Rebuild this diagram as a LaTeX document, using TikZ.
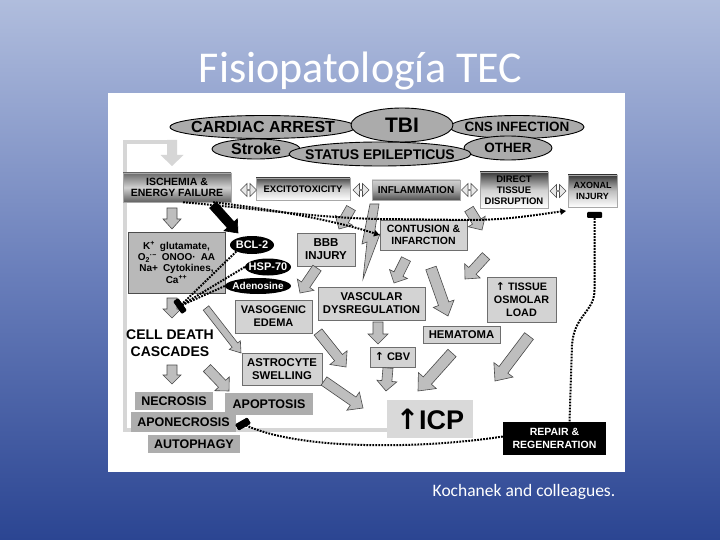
\documentclass[tikz,border=0pt]{standalone}
\usepackage{fontspec}
\setmainfont{Liberation Sans}
\newfontfamily\calib{Carlito}
\newfontfamily\dejavu{DejaVu Sans}
\usetikzlibrary{calc,shapes.geometric,shapes.arrows,arrows.meta}
\pgfdeclarelayer{bgl}
\pgfdeclarelayer{midl}
\pgfsetlayers{bgl,midl,main}
\definecolor{bgtop}{HTML}{B0BDDD}
\definecolor{bgmid}{HTML}{6A7FBB}
\definecolor{bgbot}{HTML}{2B4592}
\definecolor{ellg}{HTML}{ABABAB}
\definecolor{boxl}{HTML}{D3D3D3}
\definecolor{boxb}{HTML}{6E6E6E}
\definecolor{deathg}{HTML}{ADADAD}
\definecolor{kg}{HTML}{B9B9B9}
\definecolor{arrf}{HTML}{BEBEBE}
\definecolor{arrb}{HTML}{4A4A4A}
\definecolor{icpf}{HTML}{D9D9D9}
\definecolor{fbg}{HTML}{D6D6D6}
\newcommand\fsz[1]{\fontsize{#1}{#1}\selectfont}
\newcommand\barrow[6][blockarr]{%
  \path (#2) coordinate (ba-A) (#3) coordinate (ba-B);
  \path ($(ba-B)!#6!(ba-A)$) coordinate (ba-H);
  \filldraw[#1] ($(ba-A)!#4!90:(ba-B)$) -- ($(ba-H)!#4!-90:(ba-A)$) -- ($(ba-H)!#5!-90:(ba-A)$) -- (ba-B) -- ($(ba-H)!#5!90:(ba-A)$) -- ($(ba-H)!#4!90:(ba-A)$) -- ($(ba-A)!#4!-90:(ba-B)$) -- cycle;}
\begin{document}
\begin{tikzpicture}[x=1pt,y=-1pt,
  ell/.style={ellipse, draw=black, line width=0.9pt, fill=ellg, inner sep=0pt},
  lbox/.style={rectangle, draw=boxb, line width=0.9pt, fill=boxl, inner sep=0pt, align=center},
  gbox/.style={rectangle, draw=boxb!60, line width=0.5pt, inner sep=0pt, align=center},
  dbox/.style={rectangle, fill=deathg, inner sep=0pt, font=\bfseries\fsz{12.5}},
  bell/.style={ellipse, fill=black, inner sep=0pt},
  btxt/.style={text=white, inner sep=0pt, font=\bfseries\fsz{11}},
  tbar/.style={rectangle, fill=black, rounded corners=1pt, inner sep=0pt},
  dotline/.style={line width=2pt, dash pattern=on 1.8pt off 1.2pt, black},
  dtip/.style={-{Triangle[length=5.5pt,width=6pt]}},
  blockarr/.style={fill=arrf, draw=arrb, line width=0.6pt, line join=miter},
  blackarr/.style={fill=black, draw=black, line width=0.6pt},
  fbarr/.style={fill=fbg, draw=none},
  darr/.style={double arrow, double arrow head extend=3pt, fill=gray!18, draw=gray!60!black, line width=0.6pt, inner sep=0pt, minimum width=13pt, minimum height=16pt},
]
\begin{pgfonlayer}{bgl}
\shade[top color=bgtop, bottom color=bgbot, middle color=bgmid] (0,0) rectangle (720,540);
\node[fill=white, minimum width=517pt, minimum height=379pt, inner sep=0pt] (panel) at (366.5,282.5) {};
\end{pgfonlayer}
\useasboundingbox (0,0) rectangle (720,540);

\node[font=\calib\fontsize{44}{44}\selectfont, text=white, anchor=base, inner sep=0pt] (title) at (360.5,83) {Fisiopatología TEC};
\node[font=\calib\fontsize{17.5}{18}\selectfont, text=white, anchor=base, inner sep=0pt] (credit) at (524,496) {Kochanek and colleagues.};

% top ellipses
\node[ell, minimum width=186pt, minimum height=23pt] (ca) at (263,127) {};
\node[ell, minimum width=134pt, minimum height=23pt] (cns) at (517,127) {};
\node[ell, minimum width=102pt, minimum height=34pt] (tbi) at (402,125) {};
\node[ell, minimum width=88pt, minimum height=20pt] (stroke) at (256,149) {};
\node[ell, minimum width=88pt, minimum height=24pt] (other) at (508,148) {};
\node[ell, minimum width=182pt, minimum height=24pt] (status) at (380,154) {};
\node[font=\bfseries\fsz{16}, inner sep=0pt] (ca-t) at (ca) {CARDIAC ARREST};
\node[font=\bfseries\fsz{13.5}, inner sep=0pt] (cns-t) at (cns) {CNS INFECTION};
\node[font=\bfseries\fsz{21}, inner sep=0pt] (tbi-t) at (tbi) {TBI};
\node[font=\bfseries\fsz{16}, inner sep=0pt] (stroke-t) at (stroke) {Stroke};
\node[font=\bfseries\fsz{13.5}, inner sep=0pt] (other-t) at (other) {OTHER};
\node[font=\bfseries\fsz{14}, inner sep=0pt] (status-t) at ([yshift=-1pt]status) {STATUS EPILEPTICUS};

% gradient boxes
\node[gbox, minimum width=108pt, minimum height=29pt, top color=black!58, bottom color=black!62, middle color=black!18, font=\bfseries\fontsize{10.5}{11}\selectfont] (isch) at (177,187.5) {ISCHEMIA \&\\ENERGY FAILURE};
\node[gbox, minimum width=94pt, minimum height=22pt, top color=black!72, bottom color=white, middle color=black!20, font=\bfseries\fsz{9.5}] (excito) at (303,189) {EXCITOTOXICITY};
\node[gbox, minimum width=88pt, minimum height=20pt, top color=black!18, bottom color=black!68, middle color=black!35, font=\bfseries\fsz{10}] (inflam) at (416,190) {INFLAMMATION};
\node[gbox, minimum width=68pt, minimum height=36pt, top color=black!78, bottom color=white, middle color=black!18, font=\bfseries\fontsize{9.5}{11}\selectfont] (direct) at (514,190) {DIRECT\\TISSUE\\DISRUPTION};
\node[gbox, minimum width=49pt, minimum height=32pt, top color=black!78, bottom color=white, middle color=black!25, font=\bfseries\fontsize{9}{11}\selectfont] (axonal) at (592.5,191) {AXONAL\\INJURY};

\node[darr] (dd1) at (248.5,190) {};
\node[darr] (dd2) at (361,190) {};
\node[darr] (dd3) at (469.5,190) {};
\node[darr] (dd4) at (558,191) {};

% middle boxes
\node[rectangle, draw=black!70, line width=0.9pt, fill=kg, minimum width=97pt, minimum height=61pt, inner sep=0pt, align=center, font=\bfseries\fontsize{10}{11.2}\selectfont] (kbox) at (176.5,262.5) {K\textsuperscript{+}\enspace glutamate,\\O\textsubscript{2}\textsuperscript{·−}\enspace ONOO·\enspace AA\\Na+\enspace Cytokines,\\Ca\textsuperscript{++}};
\node[lbox, minimum width=58pt, minimum height=33pt, font=\bfseries\fontsize{11.5}{13}\selectfont] (bbb) at (326,249.5) {BBB\\INJURY};
\node[lbox, minimum width=87pt, minimum height=30pt, font=\bfseries\fontsize{10.5}{12.5}\selectfont] (contusion) at (423.5,235) {CONTUSION \&\\INFARCTION};
\node[lbox, minimum width=107pt, minimum height=33pt, font=\bfseries\fontsize{11.3}{13}\selectfont] (vascular) at (371.5,303.5) {VASCULAR\\DYSREGULATION};
\node[lbox, minimum width=77pt, minimum height=33pt, font=\bfseries\fontsize{11}{13}\selectfont] (vasog) at (273.5,316.5) {VASOGENIC\\EDEMA};
\node[lbox, minimum width=80pt, minimum height=32pt, font=\bfseries\fontsize{11.3}{13}\selectfont] (astro) at (282,369) {ASTROCYTE\\SWELLING};
\node[lbox, minimum width=45pt, minimum height=20pt, font=\bfseries\fsz{11}] (cbv) at (392.5,357) {{\dejavu\bfseries ↑} CBV};
\node[lbox, minimum width=77pt, minimum height=17pt, font=\bfseries\fsz{11.3}] (hema) at (461.5,334.5) {HEMATOMA};
\node[lbox, minimum width=69pt, minimum height=45pt, font=\bfseries\fontsize{10.8}{13}\selectfont] (tissue) at (521.5,299.5) {{\dejavu\bfseries ↑} TISSUE\\OSMOLAR\\LOAD};
\node[rectangle, fill=icpf, minimum width=86pt, minimum height=38pt, inner sep=0pt, font=\bfseries\fsz{27}] (icp) at (430,419) {{\dejavu\fsz{28}↑}ICP};
\node[rectangle, fill=black, text=white, minimum width=103pt, minimum height=33pt, inner sep=0pt, align=center, font=\bfseries\fontsize{10.5}{13}\selectfont] (repair) at (554.5,438.5) {REPAIR \&\\REGENERATION};

% black ellipses
\node[bell, minimum width=44pt, minimum height=18pt] (bcl) at (252,245) {};
\node[btxt] (bcl-t) at (bcl) {BCL-2};
\node[bell, minimum width=46pt, minimum height=17pt] (hsp) at (268,267) {};
\node[btxt] (hsp-t) at (hsp) {HSP-70};
\node[bell, minimum width=66pt, minimum height=16pt] (adeno) at (258,286) {};
\node[btxt, font=\bfseries\fsz{10}] (adeno-t) at (adeno) {Adenosine};

% cell death
\node[font=\bfseries\fontsize{14}{17}\selectfont, align=center, inner sep=0pt] (cdc) at (170,343) {CELL DEATH\\CASCADES};
\node[dbox, minimum width=78pt, minimum height=18pt] (necro) at (174,401) {NECROSIS};
\node[dbox, minimum width=88pt, minimum height=22pt] (apop) at (269,404) {APOPTOSIS};
\node[dbox, minimum width=105pt, minimum height=20pt] (aponec) at (183.5,422) {APONECROSIS};
\node[dbox, minimum width=92pt, minimum height=18pt] (autoph) at (194,444) {AUTOPHAGY};

% feedback loop (light gray)
\begin{pgfonlayer}{midl}
\draw[fbg, line width=4pt] ([yshift=-11pt]icp.west) -- (125,430) -- (125,142) -- (174,142);
\barrow[fbarr]{172,140}{172,166}{5pt}{11.5pt}{11pt}
\end{pgfonlayer}

% block arrows
\barrow{172,208}{172,229}{5pt}{9pt}{10pt}
\barrow{351,208}{339,229}{5pt}{10pt}{10pt}
\barrow{469,209}{482,230}{5pt}{10pt}{10pt}
\barrow{406,259}{394,283}{5pt}{10pt}{10pt}
\barrow{431,268}{448,316}{5.5pt}{11pt}{13pt}
\barrow{486,256}{465,279}{5pt}{10.5pt}{11pt}
\barrow{378,322}{378,344}{5pt}{10pt}{10pt}
\barrow{388,368}{386,391}{5pt}{10pt}{10pt}
\barrow{452,353}{418,391}{5.5pt}{12pt}{14pt}
\barrow{529,336}{495,381}{5.5pt}{12pt}{14pt}
\barrow{172,298}{172,318}{5pt}{9pt}{9pt}
\barrow{206,308}{241,353}{3.5pt}{7pt}{10pt}
\barrow{317,268}{300,293}{5pt}{10pt}{10pt}
\barrow{318,332}{346,367}{5pt}{11pt}{12pt}
\barrow{324,381}{363,408}{5pt}{11pt}{12pt}
\barrow{172,365}{172,384}{5pt}{9pt}{9pt}
\barrow{207,368}{229,391}{5pt}{10pt}{10pt}
\barrow[blackarr]{213,205}{238,233}{4.5pt}{9pt}{11pt}
% lightning bolt
\filldraw[blockarr] (370,204) -- (379,204) -- (374,236) -- (380,234) -- (363,279) -- (367,242) -- (362,244) -- cycle;

% dotted connectors
\coordinate (axin) at (566,211);
\draw[dotline, dtip] ([xshift=6pt]isch.south) .. controls (250,208) and (320,218) .. (380,219) -- (470,220) .. controls (510,220) and (540,214) .. (axin);
\draw[dotline, dtip] ([xshift=36pt]isch.south) .. controls (280,210) and (340,222) .. (contusion.west);
\node[tbar, minimum width=15pt, minimum height=6pt, rotate=-55] (tb1) at (180,306) {};
\node[tbar, minimum width=14pt, minimum height=7pt, rotate=30] (tb2) at (243,424) {};
\node[tbar, minimum width=15pt, minimum height=6pt] (tb3) at (594.5,215) {};
\draw[dotline] (bcl.south west) -- (tb1.center);
\draw[dotline] (hsp.west) -- (tb1.center);
\draw[dotline] (adeno.west) -- (tb1.center);
\draw[dotline] (tb3.south) -- (594.5,290) .. controls (594.5,312) and (574,315) .. (572,345) -- ([xshift=15pt]repair.north);
\draw[dotline] ([yshift=2pt]repair.west) .. controls (430,448) and (300,452) .. (tb2.center);
\node[tbar, minimum width=15pt, minimum height=6pt, rotate=-55] (tb1b) at (tb1) {};
\node[tbar, minimum width=14pt, minimum height=7pt, rotate=30] (tb2b) at (tb2) {};
\end{tikzpicture}
\end{document}
